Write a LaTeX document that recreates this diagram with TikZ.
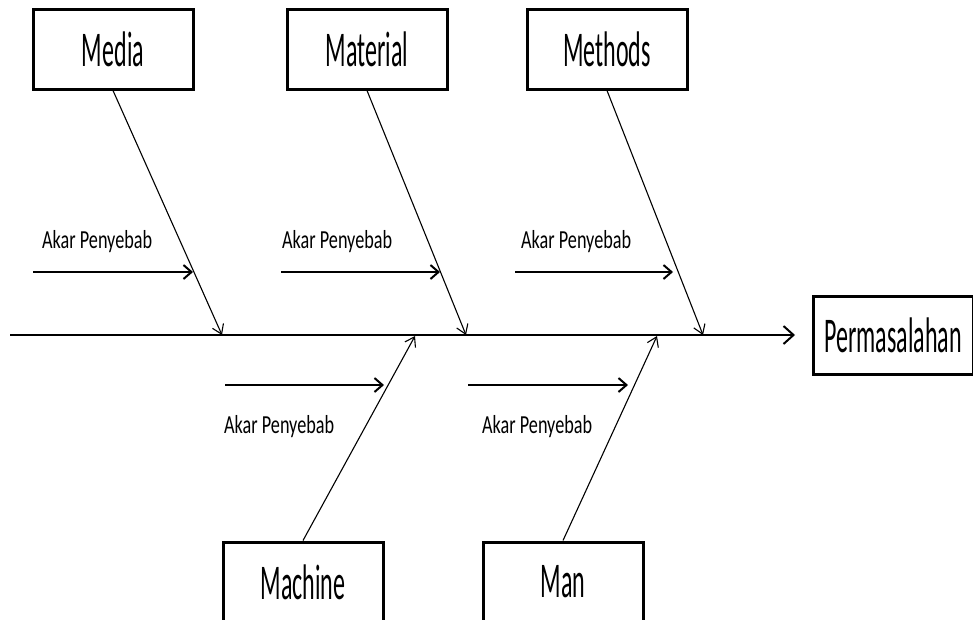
\documentclass[tikz,border=0pt]{standalone}
\usepackage{fontspec}
\setmainfont{Carlito}
\newfontfamily\boxfont[FakeStretch=0.48]{Carlito}
\newfontfamily\rootfont[FakeStretch=0.7]{Carlito}
\usetikzlibrary{positioning,arrows.meta}

\begin{document}
\begin{tikzpicture}[
x=1pt, y=-1pt,
cause/.style={rectangle, draw, line width=3pt, minimum width=160pt, minimum height=80pt, inner sep=0pt, font=\boxfont\fontsize{50}{60}\selectfont},
root/.style={anchor=base west, inner sep=0pt, font=\rootfont\fontsize{26}{30}\selectfont},
bone/.style={-{Straight Barb[length=9pt,width=12pt]}, line width=1.1pt},
spine/.style={-{Straight Barb[length=10pt,width=18pt]}, line width=2pt},
sub/.style={-{Straight Barb[length=8pt,width=14pt]}, line width=2pt}
]
\useasboundingbox (0,0) rectangle (973,619);

% cause boxes
\node[cause] (media) at (113,49) {Media};
\node[cause] (material) at (367,49) {Material};
\node[cause] (methods) at (607,49) {Methods};
\node[cause] (machine) at (303,582) {Machine};
\node[cause] (man) at (563,582) {Man};
\node[cause, minimum height=78pt] (problem) at (893,335) {Permasalahan};

% spine
\coordinate (tail) at (10,335);
\coordinate (head) at (795,335);
\draw[spine] (tail) -- (head);

% bones
\coordinate (jmedia) at (222,335);
\coordinate (jmaterial) at (466,335);
\coordinate (jmethods) at (703,335);
\coordinate (jmachine) at (415,336);
\coordinate (jman) at (657,336);
\draw[bone] (media.south) -- (jmedia);
\draw[bone] (material.south) -- (jmaterial);
\draw[bone] (methods.south) -- (jmethods);
\draw[bone] (machine.north) -- (jmachine);
\draw[bone] (man.north) -- (jman);

% root causes
\node[root] (akar1) at (42,248) {Akar Penyebab};
\node[root] (akar2) at (282,248) {Akar Penyebab};
\node[root] (akar3) at (521,248) {Akar Penyebab};
\node[root] (akar4) at (224,433) {Akar Penyebab};
\node[root] (akar5) at (482,433) {Akar Penyebab};

\coordinate (s1) at (33,272);   \coordinate (e1) at (193,272);
\coordinate (s2) at (281,272);  \coordinate (e2) at (440,272);
\coordinate (s3) at (515,272);  \coordinate (e3) at (673,272);
\coordinate (s4) at (225,385);  \coordinate (e4) at (384,385);
\coordinate (s5) at (468,385);  \coordinate (e5) at (628,385);
\draw[sub] (s1) -- (e1);
\draw[sub] (s2) -- (e2);
\draw[sub] (s3) -- (e3);
\draw[sub] (s4) -- (e4);
\draw[sub] (s5) -- (e5);

\end{tikzpicture}
\end{document}
